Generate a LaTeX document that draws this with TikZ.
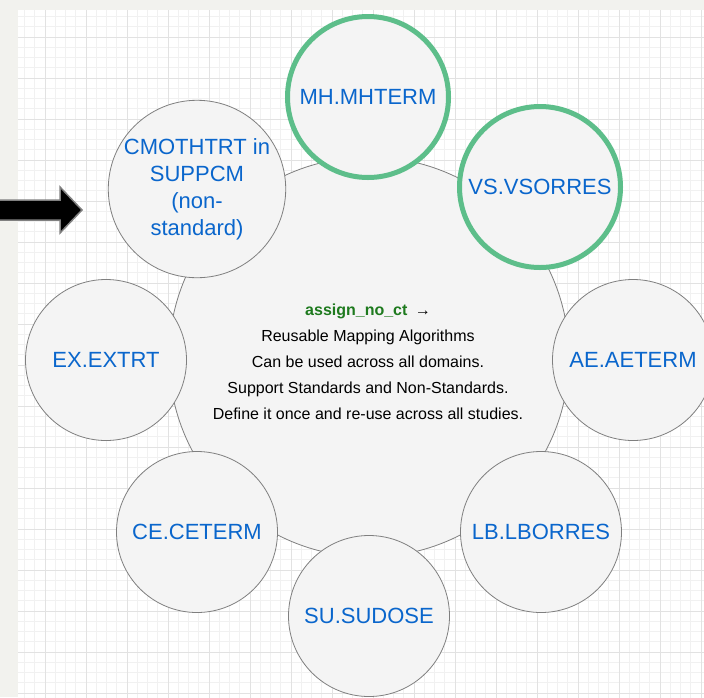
\documentclass[tikz,border=0pt]{standalone}
\usepackage{fontspec}
\setmainfont{Liberation Sans}
\usepackage{tikz}
\definecolor{strip}{HTML}{F2F2EE}
\definecolor{minorline}{HTML}{F1F1F1}
\definecolor{majorline}{HTML}{E2E2E2}
\definecolor{bubble}{HTML}{F4F4F4}
\definecolor{rim}{HTML}{7F7F7F}
\definecolor{fieldblue}{HTML}{0A66CC}
\definecolor{mintrim}{HTML}{5DBE8A}
\definecolor{algogreen}{HTML}{1E7A1E}
\tikzset{
  field/.style={circle, minimum size=161pt, inner sep=0pt, fill=bubble, draw=rim,
    line width=0.8pt, text=fieldblue, align=center,
    font=\fontsize{22}{27}\selectfont},
  hilite/.style={field, draw=mintrim, line width=5pt},
}

\begin{document}
\begin{tikzpicture}[x=1pt, y=-1pt]
		%%%%% START %%%%%
		
		\useasboundingbox (0, 0) rectangle (704, 697);
		\fill[strip] (0, 0) rectangle (704, 697);
		\fill[white] (18, 10) rectangle (704, 697);
		
		\begin{scope}
			\clip (18, 10) rectangle (704, 697);
			\begin{scope}[shift={(45, 37)}]
				\draw[minorline, line width=0.8pt, step=10.25pt] (-41, -41) grid (700, 700);
				\draw[majorline, line width=0.9pt, step=41pt] (-41, -41) grid (700, 700);
			\end{scope}
		\end{scope}
		
		\draw[fill=black, draw=gray, line width=1.5pt] (-2, 200) -- (60, 200) -- (60, 187) -- (82, 210) -- (60, 233) -- (60, 220) -- (-2, 220) -- cycle;
		
		\node[circle, minimum size=400pt, inner sep=0pt, fill=bubble, draw=rim, line width=0.8pt] (core) at (369, 357) {};
		\node[align=center, font=\fontsize{16}{26}\selectfont] (coretext) at (368, 362) {{\color{algogreen}\bfseries assign\_no\_ct} $\,$→\\Reusable Mapping Algorithms\\Can be used across all domains.\\Support Standards and Non-Standards.\\Define it once and re-use across all studies.};
		
		\node[field] (cm) at (197, 189) {CMOTHTRT in\\SUPPCM\\(non-\\standard)};
		\node[field] (ex) at (106, 360) {EX.EXTRT};
		\node[field] (ce) at (197, 532) {CE.CETERM};
		\node[field] (su) at (369, 616) {SU.SUDOSE};
		\node[field] (lb) at (541, 532) {LB.LBORRES};
		\node[field] (ae) at (633, 360) {AE.AETERM};
		\node[hilite] (mh) at (368, 97) {MH.MHTERM};
		\node[hilite] (vs) at (540, 187) {VS.VSORRES};
		
		%%%%% END %%%%%
\end{tikzpicture}
\end{document}
